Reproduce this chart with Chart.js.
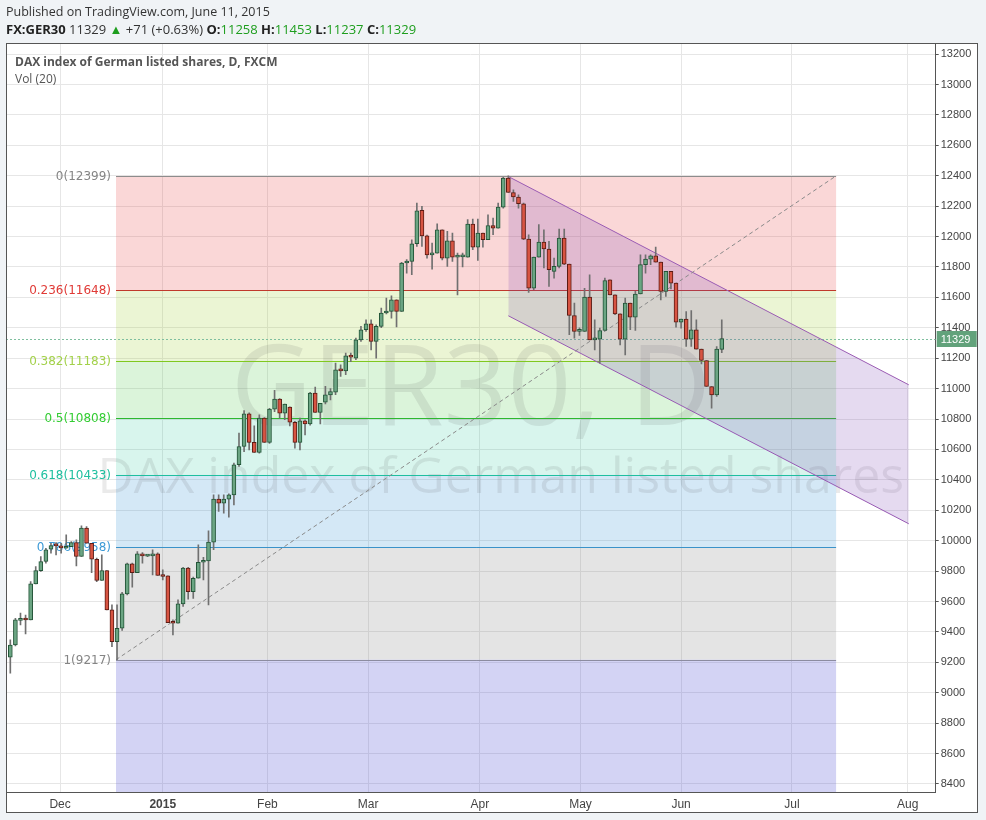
<!DOCTYPE html>
<html>
<head>
<meta charset="utf-8">
<title>FX:GER30 daily</title>
<script src="https://cdn.jsdelivr.net/npm/chart.js@4.4.1/dist/chart.umd.min.js"></script>
<style>
  body { margin: 0; background: #f0f3f6; font-family: "Open Sans", sans-serif; }
  #page { position: relative; width: 986px; height: 820px; }
  #chart { position: absolute; left: 0; top: 0; }
  .line { position: absolute; left: 6px; white-space: nowrap; font-size: 13px; line-height: 17px; color: #333; }
  #pub { top: 3px; font-size: 12.5px; }
  #quote { top: 21px; }
  #quote b { font-weight: 700; color: #222; }
  .up { color: #1e9e1e; }
  #legend { position: absolute; left: 15px; top: 53px; font-size: 12px; line-height: 17px; color: #555; }
  #legend .name { font-weight: 700; }
</style>
</head>
<body>
<div id="page">
  <canvas id="chart" width="986" height="820"></canvas>
  <div class="line" id="pub">Published on TradingView.com, June 11, 2015</div>
  <div class="line" id="quote"><b>FX:GER30</b> 11329 <span class="up">▲</span> +71 (+0.63%) <b>O:</b><span class="up">11258</span> <b>H:</b><span class="up">11453</span> <b>L:</b><span class="up">11237</span> <b>C:</b><span class="up">11329</span></div>
  <div id="legend"><div class="name">DAX index of German listed shares, D, FXCM</div><div>Vol (20)</div></div>
</div>
<script>
// daily bars, 17 Nov 2014 .. 11 Jun 2015 (x = bar number)
const opens = [
  9233, 9314, 9476, 9485, 9479, 9716, 9803, 9863, 9944, 9972,
  9961, 9950, 9961, 9988, 9896, 10082, 9983, 9878, 9738, 9803,
  9545, 9336, 9424, 9650, 9847, 9790, 9913, 9898, 9900, 9913,
  9775, 9768, 9466, 9457, 9584, 9819, 9665, 9753, 9858, 9867,
  9990, 10273, 10246, 10273, 10301, 10499, 10619, 10834, 10646, 10580,
  10806, 10646, 10865, 10931, 10839, 10878, 10779, 10646, 10788, 10768,
  10970, 10843, 10910, 10959, 10977, 11124, 11117, 11216, 11200, 11321,
  11387, 11426, 11310, 11409, 11497, 11508, 11584, 11508, 11826, 11837,
  11953, 12172, 12005, 11880, 11891, 12045, 11858, 11972, 11865, 11866,
  11865, 12082, 11931, 12023, 11979, 12073, 12056, 12194, 12385, 12290,
  12260, 12216, 11983, 11661, 11865, 11964, 11918, 11771, 11804, 11990,
  11819, 11481, 11376, 11376, 11602, 11321, 11325, 11382, 11716, 11617,
  11492, 11325, 11562, 11470, 11622, 11815, 11852, 11874, 11832, 11639,
  11771, 11694, 11437, 11457, 11325, 11387, 11260, 11185, 11014, 10959, 11258
];
const highs = [
  9347, 9490, 9523, 9511, 9731, 9830, 9896, 9950, 9983, 9988,
  9983, 10038, 9994, 10005, 10097, 10093, 9983, 9885, 9907, 9803,
  9578, 9578, 9660, 9852, 9852, 9928, 9922, 9905, 9939, 9920,
  9808, 9768, 9479, 9611, 9825, 9825, 9760, 9972, 9891, 10064,
  10301, 10301, 10301, 10308, 10510, 10707, 10856, 10840, 10755, 10828,
  10810, 10870, 10988, 10935, 10898, 10880, 10785, 10806, 10795, 10975,
  11010, 10904, 11015, 11000, 11168, 11157, 11233, 11233, 11332, 11409,
  11453, 11453, 11420, 11530, 11595, 11610, 11584, 11830, 11848, 11979,
  12220, 12198, 12010, 11957, 12084, 12045, 12034, 12023, 11891, 11891,
  12111, 12115, 12115, 12023, 12143, 12121, 12220, 12390, 12399, 12308,
  12275, 12220, 12012, 11865, 12078, 12045, 11968, 11858, 12049, 12049,
  11819, 11562, 11400, 11660, 11749, 11452, 11398, 11727, 11716, 11617,
  11492, 11595, 11562, 11639, 11880, 11880, 11880, 11931, 11832, 11771,
  11771, 11694, 11457, 11507, 11514, 11453, 11260, 11185, 11014, 11277, 11453
];
const lows = [
  9128, 9308, 9446, 9387, 9479, 9716, 9797, 9852, 9917, 9907,
  9917, 9950, 9961, 9834, 9896, 9983, 9790, 9731, 9738, 9545,
  9303, 9217, 9410, 9643, 9694, 9790, 9852, 9895, 9775, 9771,
  9742, 9461, 9380, 9457, 9567, 9615, 9620, 9753, 9742, 9578,
  9940, 10192, 10181, 10154, 10235, 10488, 10586, 10597, 10580, 10575,
  10646, 10640, 10849, 10806, 10795, 10755, 10608, 10597, 10696, 10760,
  10843, 10768, 10900, 10926, 10960, 11080, 11091, 11178, 11190, 11310,
  11376, 11255, 11200, 11400, 11492, 11464, 11405, 11508, 11760, 11750,
  11935, 11935, 11858, 11786, 11891, 11847, 11803, 11836, 11617, 11800,
  11865, 11913, 11843, 11931, 11979, 12012, 12056, 12187, 12290, 12231,
  12187, 11979, 11632, 11650, 11865, 11793, 11672, 11727, 11793, 11815,
  11354, 11332, 11350, 11376, 11321, 11255, 11168, 11382, 11617, 11486,
  11288, 11222, 11387, 11383, 11622, 11760, 11815, 11832, 11584, 11606,
  11655, 11404, 11398, 11277, 11277, 11260, 11163, 11014, 10872, 10948, 11237
];
const closes = [
  9314, 9479, 9482, 9478, 9716, 9803, 9863, 9939, 9968, 9966,
  9953, 9961, 9988, 9896, 10082, 9983, 9878, 9738, 9803, 9545,
  9336, 9424, 9650, 9847, 9790, 9913, 9900, 9900, 9913, 9771,
  9764, 9461, 9457, 9584, 9819, 9665, 9753, 9858, 9867, 9990,
  10273, 10246, 10273, 10301, 10499, 10619, 10834, 10646, 10580, 10806,
  10646, 10865, 10931, 10839, 10898, 10779, 10646, 10788, 10768, 10970,
  10843, 10904, 10959, 10981, 11124, 11117, 11216, 11207, 11321, 11387,
  11426, 11310, 11409, 11497, 11508, 11584, 11508, 11826, 11837, 11953,
  12170, 12005, 11880, 11891, 12045, 11858, 11972, 11865, 11868, 11870,
  12082, 11931, 12023, 11979, 12073, 12056, 12194, 12385, 12290, 12260,
  12216, 11983, 11661, 11865, 11964, 11918, 11782, 11804, 11990, 11819,
  11481, 11376, 11378, 11602, 11321, 11330, 11382, 11711, 11617, 11492,
  11325, 11562, 11470, 11622, 11815, 11852, 11874, 11832, 11639, 11771,
  11694, 11437, 11457, 11325, 11387, 11260, 11185, 11014, 10959, 11260, 11329
];

// month labels sit on the first bar of each month
const monthTicks = [9.8, 30, 50.6, 70.4, 92.4, 112.2, 132, 153.8, 176.6];
const monthLabels = ['Dec', '2015', 'Feb', 'Mar', 'Apr', 'May', 'Jun', 'Jul', 'Aug'];
const priceTicks = [8400, 8600, 8800, 9000, 9200, 9400, 9600, 9800, 10000, 10200, 10400, 10600,
  10800, 11000, 11200, 11400, 11600, 11800, 12000, 12200, 12400, 12600, 12800, 13000, 13200];

// fib retracement, low of 16 Dec to the April top
const fibLevels = ['0', '0.236', '0.382', '0.5', '0.618', '0.786', '1'];
const fibPrices = [12399, 11648, 11183, 10808, 10433, 9958, 9217];
const fibSpan = [20.8, 162.5];

// falling channel from the April top
const channelX = [98, 176.8];
const channelTop = [12395, 11025];
const channelBottom = [11479, 10111];

// dashed diagonal of the fib tool
const trendX = [20.8, 162.5];
const trendY = [9217, 12399];

const lastPrice = 11329;

const fibLine = ['#8c8c8c', '#c0392b', '#80c820', '#2eb82e', '#1fbf9f', '#3a92c9', '#8c8ca0'];
const fibFill = ['rgba(229,57,53,0.2)', 'rgba(156,204,40,0.2)', 'rgba(76,200,70,0.2)',
  'rgba(38,200,154,0.18)', 'rgba(40,140,210,0.2)', 'rgba(120,120,120,0.2)', 'rgba(80,80,210,0.25)'];
const fibText = ['#858585', '#e03a36', '#a3d14a', '#33cc33', '#1fbf9f', '#3d9ad6', '#858585'];

const isUp = i => closes[i] >= opens[i];
const wickData = opens.map((o, i) => ({ x: i, y: [lows[i], highs[i]] }));
const bodyData = opens.map((o, i) => ({ x: i, y: [o, closes[i]] }));

const fibPlugin = {
    id: 'fib',
    beforeDatasetsDraw(chart) {
        const { ctx, chartArea: a, scales: { x, y } } = chart;
        const x0 = x.getPixelForValue(fibSpan[0]);
        const x1 = x.getPixelForValue(fibSpan[1]);
        ctx.save();
        ctx.beginPath();
        ctx.rect(a.left, a.top, a.width, a.height);
        ctx.clip();

        fibPrices.forEach((p, k) => {
            const top = y.getPixelForValue(p);
            const bottom = k + 1 < fibPrices.length ? y.getPixelForValue(fibPrices[k + 1]) : a.bottom;
            ctx.fillStyle = fibFill[k];
            ctx.fillRect(x0, top, x1 - x0, bottom - top);
        });

        // watermark
        const cx = a.left + a.width / 2;
        ctx.fillStyle = 'rgba(80,80,80,0.12)';
        ctx.textAlign = 'center';
        ctx.textBaseline = 'alphabetic';
        ctx.font = '112px "Open Sans"';
        ctx.fillText('GER30, D', cx, 425);
        ctx.font = '50px "Open Sans"';
        ctx.fillText('DAX index of German listed shares', cx + 30, 493);

        fibPrices.forEach((p, k) => {
            const py = Math.round(y.getPixelForValue(p)) + 0.5;
            ctx.strokeStyle = fibLine[k];
            ctx.lineWidth = 1;
            ctx.beginPath();
            ctx.moveTo(x0, py);
            ctx.lineTo(x1, py);
            ctx.stroke();
            ctx.fillStyle = fibText[k];
            ctx.font = '12px "DejaVu Sans"';
            ctx.textAlign = 'right';
            ctx.textBaseline = 'middle';
            ctx.fillText(fibLevels[k] + '(' + p + ')', x0 - 5, py);
        });

        // last price line
        const ly = Math.round(y.getPixelForValue(lastPrice)) + 0.5;
        ctx.strokeStyle = '#7fbf9f';
        ctx.setLineDash([2, 2]);
        ctx.beginPath();
        ctx.moveTo(a.left, ly);
        ctx.lineTo(a.right, ly);
        ctx.stroke();
        ctx.restore();
    }
};

const framePlugin = {
    id: 'frame',
    beforeDraw(chart) {
        const ctx = chart.ctx;
        ctx.save();
        ctx.fillStyle = '#fff';
        ctx.fillRect(6, 43, 972, 770);
        ctx.restore();
    },
    afterDraw(chart) {
        const { ctx, chartArea: a, scales: { y } } = chart;
        ctx.save();
        ctx.strokeStyle = '#555';
        ctx.lineWidth = 1;
        ctx.strokeRect(6.5, 43.5, 971, 769);
        const ly = Math.round(y.getPixelForValue(lastPrice));
        ctx.fillStyle = '#62a27b';
        ctx.fillRect(a.right + 1, ly - 8, 40, 16);
        ctx.fillStyle = '#fff';
        ctx.font = '11px "Liberation Sans", Arial';
        ctx.textBaseline = 'middle';
        ctx.fillText(String(lastPrice), a.right + 5, ly + 0.5);
        ctx.restore();
    }
};

new Chart(document.getElementById('chart'), {
    type: 'bar',
    data: {
        datasets: [
            {
                type: 'line', label: 'channel top',
                data: channelX.map((v, k) => ({ x: v, y: channelTop[k] })),
                borderColor: '#9b5cb4', borderWidth: 1, pointRadius: 0,
                fill: '+1', backgroundColor: 'rgba(126,70,180,0.2)', order: 5
            },
            {
                type: 'line', label: 'channel bottom',
                data: channelX.map((v, k) => ({ x: v, y: channelBottom[k] })),
                borderColor: '#9b5cb4', borderWidth: 1, pointRadius: 0, fill: false, order: 5
            },
            {
                type: 'line', label: 'fib diagonal',
                data: trendX.map((v, k) => ({ x: v, y: trendY[k] })),
                borderColor: '#8a8a8a', borderWidth: 1, borderDash: [4, 3], pointRadius: 0, order: 3
            },
            {
                label: 'wick', data: wickData, backgroundColor: '#707070',
                barThickness: 1, grouped: false, order: 2
            },
            {
                label: 'body', data: bodyData,
                backgroundColor: c => isUp(c.dataIndex) ? '#6ba583' : '#d75442',
                borderColor: c => isUp(c.dataIndex) ? '#225437' : '#5b1a13',
                borderWidth: 1, borderSkipped: false, barThickness: 4, minBarLength: 2,
                grouped: false, order: 1
            }
        ]
    },
    options: {
        responsive: false,
        animation: false,
        devicePixelRatio: 1,
        layout: { padding: { left: 6, top: 43, right: 8, bottom: 7 } },
        plugins: {
            legend: { display: false },
            tooltip: { enabled: false }
        },
        scales: {
            x: {
                type: 'linear', min: -0.85, max: 182.1, offset: false,
                afterBuildTicks: axis => { axis.ticks = monthTicks.map(v => ({ value: v })); },
                afterFit: axis => { axis.height = 21; },
                grid: { color: '#e6e6e6', offset: false, drawTicks: false },
                border: { color: '#555' },
                ticks: {
                    padding: 5, color: '#444', autoSkip: false, maxRotation: 0,
                    font: c => ({ family: '"Liberation Sans", Arial', size: 12,
                        weight: c.tick && c.tick.label === '2015' ? 'bold' : 'normal' }),
                    callback: (v, k) => monthLabels[k]
                }
            },
            y: {
                position: 'right', min: 8347, max: 13273,
                afterBuildTicks: axis => { axis.ticks = priceTicks.map(v => ({ value: v })); },
                afterFit: axis => { axis.width = 42.3; },
                grid: { color: '#e6e6e6', tickColor: '#555', tickLength: 3 },
                border: { color: '#555' },
                ticks: {
                    padding: 2, color: '#444',
                    font: { family: '"Liberation Sans", Arial', size: 11 },
                    callback: v => String(v)
                }
            }
        }
    },
    plugins: [framePlugin, fibPlugin]
});
</script>
</body>
</html>
